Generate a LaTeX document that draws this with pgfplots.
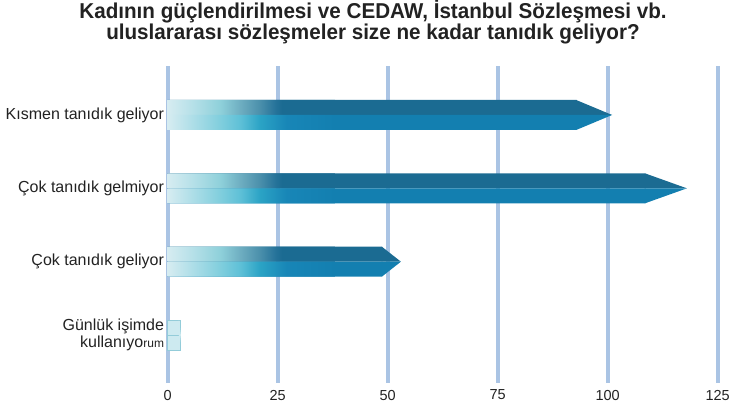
\documentclass[border=0pt]{standalone}
\usepackage{fontspec}
\setmainfont{Liberation Sans}
\newfontfamily\titlefont[FakeStretch=0.96]{Liberation Sans Bold}
\usepackage{pgfplots}
\usepackage{pgfplotstable}
\pgfplotsset{compat=1.18}
\definecolor{gridc}{HTML}{AAC4E4}
\definecolor{dk}{HTML}{1B6B92}
\definecolor{md}{HTML}{137FB0}
\definecolor{lt}{HTML}{CDEAF0}
\definecolor{ltb}{HTML}{93CCD9}
\definecolor{txt}{HTML}{222222}
\definecolor{g0}{HTML}{D6ECF1}
\definecolor{t1}{HTML}{B5E0E8}
\definecolor{t2}{HTML}{8ED0DA}
\definecolor{t3}{HTML}{6AAABE}
\definecolor{t4}{HTML}{4A8FAB}
\definecolor{t5}{HTML}{26739A}
\definecolor{b2}{HTML}{80CEDD}
\definecolor{b3}{HTML}{5EC0D7}
\definecolor{b4}{HTML}{2BA3C5}
\definecolor{b5}{HTML}{1886B7}
\pgfdeclarehorizontalshading{topgrad}{100bp}{color(0bp)=(g0); color(25bp)=(g0); color(32.6bp)=(t1); color(40.8bp)=(t2); color(47.4bp)=(t3); color(52.6bp)=(t4); color(57.2bp)=(t5); color(59.2bp)=(dk); color(100bp)=(dk)}
\pgfdeclarehorizontalshading{botgrad}{100bp}{color(0bp)=(g0); color(25bp)=(g0); color(40.8bp)=(b2); color(46.7bp)=(b3); color(52.6bp)=(b4); color(60.5bp)=(b5); color(75bp)=(md); color(100bp)=(md)}
\pgfdeclareplotmark{headtop}{%
  \pgfpathmoveto{\pgfqpoint{0pt}{0pt}}%
  \pgfpathlineto{\pgfpoint{-\headlen pt-0.4pt}{15pt}}%
  \pgfpathlineto{\pgfpoint{-\headlen pt-0.4pt}{0pt}}%
  \pgfpathclose\pgfusepathqfill}
\pgfdeclareplotmark{headbot}{%
  \pgfpathmoveto{\pgfqpoint{0pt}{0pt}}%
  \pgfpathlineto{\pgfpoint{-\headlen pt-0.4pt}{-15pt}}%
  \pgfpathlineto{\pgfpoint{-\headlen pt-0.4pt}{0pt}}%
  \pgfpathclose\pgfusepathqfill}
\pgfplotstableread{
cat v
3 101
2 118
1 53
}\maintab
\pgfplotstableread{
cat v
0 3
}\smalltab
\begin{document}
\begin{tikzpicture}
\path[use as bounding box] (0,0) rectangle (733pt,409pt);
\node[align=center, text=txt, font=\titlefont\fontsize{21.5}{17}\selectfont] at (373pt,387pt) {Kadının güçlendirilmesi ve CEDAW, İstanbul Sözleşmesi vb.\\uluslararası sözleşmeler size ne kadar tanıdık geliyor?};
\begin{axis}[
  at={(167.7pt,26.3pt)}, anchor=south west,
  scale only axis, width=550pt, height=316.7pt,
  xmin=0, xmax=125, ymin=-0.65, ymax=3.668,
  axis line style={draw=none},
  major tick length=0pt,
  xtick={0,25,50,75,100,125},
  xmajorgrids, grid style={line width=4pt, gridc},
  ytick={0,1,2,3},
  yticklabels={{Günlük işimde\\kullanıyo{\fontsize{12}{12}\selectfont rum}}, Çok tanıdık geliyor, Çok tanıdık gelmiyor, Kısmen tanıdık geliyor},
  yticklabel style={font=\fontsize{16}{17}\selectfont, text=txt, align=right, inner sep=0pt, xshift=-3.5pt},
  xticklabel style={font=\fontsize{14.5}{15}\selectfont, text=txt, inner sep=0pt, yshift=-7pt},
  /pgf/number format/assume math mode=true,
  clip=false,
]
% bodies
\addplot[xbar, bar width=15pt, bar shift=7.5pt, fill=dk, draw=none] table[x expr={0.92*\thisrow{v}}, y=cat]{\maintab};
\addplot[xbar, bar width=15pt, bar shift=-7.5pt, fill=md, draw=none] table[x expr={0.92*\thisrow{v}}, y=cat]{\maintab};
% gradient overlays (fixed absolute extent)
\addplot[xbar, bar width=15pt, bar shift=7.5pt, draw=none, shade, shading=topgrad] table[x expr={min(0.92*\thisrow{v},38)}, y=cat]{\maintab};
\addplot[xbar, bar width=15pt, bar shift=-7.5pt, draw=none, shade, shading=botgrad] table[x expr={min(0.92*\thisrow{v},38)}, y=cat]{\maintab};
% heads
\addplot[only marks, mark=headtop, mark options={fill=dk, draw=none}, visualization depends on={0.352*\thisrow{v} \as \headlen}] table[x=v, y=cat]{\maintab};
\addplot[only marks, mark=headbot, mark options={fill=md, draw=none}, visualization depends on={0.352*\thisrow{v} \as \headlen}] table[x=v, y=cat]{\maintab};
% small bar
\addplot[xbar, bar width=15pt, bar shift=7.5pt, fill=lt, draw=ltb, line width=0.6pt] table[x expr={0.92*\thisrow{v}}, y=cat]{\smalltab};
\addplot[xbar, bar width=15pt, bar shift=-7.5pt, fill=lt, draw=ltb, line width=0.6pt] table[x expr={0.92*\thisrow{v}}, y=cat]{\smalltab};
\addplot[only marks, mark=headtop, mark options={fill=lt, draw=none}, visualization depends on={0.352*\thisrow{v}+0.5 \as \headlen}] table[x=v, y=cat]{\smalltab};
\addplot[only marks, mark=headbot, mark options={fill=lt, draw=none}, visualization depends on={0.352*\thisrow{v}+0.5 \as \headlen}] table[x=v, y=cat]{\smalltab};
\end{axis}
\end{tikzpicture}
\end{document}
